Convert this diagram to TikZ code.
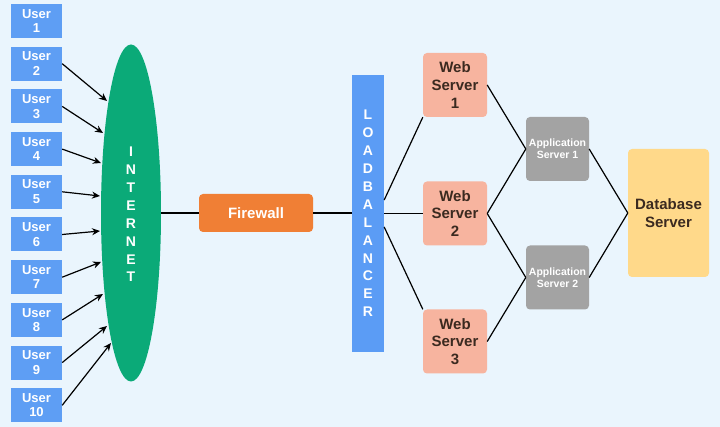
\documentclass[tikz,border=0pt]{standalone}
\usepackage{fontspec}
\setmainfont{Liberation Sans}
\usetikzlibrary{arrows.meta,shapes.geometric}
\definecolor{bgc}{HTML}{EAF5FD}
\definecolor{userc}{HTML}{5E9EF4}
\definecolor{netc}{HTML}{0BAA78}
\definecolor{firec}{HTML}{F07F35}
\definecolor{lbc}{HTML}{5B9CF5}
\definecolor{webc}{HTML}{F7B49F}
\definecolor{appc}{HTML}{A3A3A3}
\definecolor{dbc}{HTML}{FFD98A}
\definecolor{darktxt}{HTML}{3B2A20}
\tikzset{
  userbox/.style={fill=userc, minimum width=51pt, minimum height=34pt, inner sep=0pt, text=white, font=\bfseries\fontsize{13}{14.5}\selectfont, align=center},
  webbox/.style={fill=webc, rounded corners=4pt, minimum width=64pt, minimum height=64pt, inner sep=0pt, text=darktxt, font=\bfseries\fontsize{15}{17.7}\selectfont, align=center},
  appbox/.style={fill=appc, rounded corners=4pt, minimum width=63pt, minimum height=64pt, inner sep=0pt, text=white, font=\bfseries\fontsize{10.5}{12}\selectfont, align=center},
  conn/.style={draw=black, line width=1.2pt},
  arr/.style={conn, -{Stealth[length=8pt,width=7pt]}},
}
\begin{document}
\begin{tikzpicture}[x=1pt,y=-1pt]
\fill[bgc] (0,0) rectangle (720,427);
\useasboundingbox (0,0) rectangle (720,427);
% users
\foreach \i in {1,...,10}{
  \node[userbox] (u\i) at (36.5,{21+(\i-1)*42.7}) {User\\\i};
}
% internet
\node[ellipse, fill=netc, minimum width=60pt, minimum height=337pt, inner sep=0pt] (net) at (131,213) {};
\node[text=white, font=\bfseries\fontsize{14}{17.9}\selectfont, align=center] (nettxt) at (131,214.5) {I\\N\\T\\E\\R\\N\\E\\T};
% arrow targets
\coordinate (t2) at (107,101);
\coordinate (t3) at (103,133);
\coordinate (t4) at (101,163);
\coordinate (t5) at (100,196);
\coordinate (t6) at (100,231);
\coordinate (t7) at (101,262);
\coordinate (t8) at (103,294);
\coordinate (t9) at (107,326);
\coordinate (t10) at (111,343);
\foreach \i in {2,...,10}{
  \draw[arr] (u\i.east) -- (t\i);
}
% firewall
\node[fill=firec, rounded corners=4pt, minimum width=114pt, minimum height=38pt, inner sep=0pt, text=white, font=\bfseries\fontsize{15}{17}\selectfont] (fw) at (256,213) {Firewall};
% load balancer
\node[fill=lbc, minimum width=32pt, minimum height=277pt, inner sep=0pt] (lb) at (368,213.5) {};
\node[text=white, font=\bfseries\fontsize{14}{17.9}\selectfont, align=center] (lbtxt) at (368,213.5) {L\\O\\A\\D\\B\\A\\L\\A\\N\\C\\E\\R};
% web servers
\node[webbox] (w1) at (455,85) {Web\\Server\\1};
\node[webbox] (w2) at (455,213.5) {Web\\Server\\2};
\node[webbox] (w3) at (455,341.5) {Web\\Server\\3};
% app servers
\node[appbox] (a1) at (557.5,149) {Application\\Server 1};
\node[appbox] (a2) at (557.5,277.5) {Application\\Server 2};
% database
\node[fill=dbc, rounded corners=4pt, minimum width=81pt, minimum height=128pt, inner sep=0pt, text=darktxt, font=\bfseries\fontsize{15}{17.7}\selectfont, align=center] (db) at (668.5,213) {Database\\Server};
% connectors
\draw[conn] (net.east) -- (fw.west);
\draw[conn] (fw.east) -- (lb.west |- fw.east);
\draw[conn] ([yshift=13.5pt]lb.east) -- (w1.south west);
\draw[conn] (lb.east |- w2.west) -- (w2.west);
\draw[conn] ([yshift=-13.5pt]lb.east) -- (w3.north west);
\draw[conn] (w1.east) -- (a1.west);
\draw[conn] (w2.east) -- (a1.west);
\draw[conn] (w2.east) -- (a2.west);
\draw[conn] (w3.east) -- (a2.west);
\draw[conn] (a1.east) -- (db.west);
\draw[conn] (a2.east) -- (db.west);
\end{tikzpicture}
\end{document}
